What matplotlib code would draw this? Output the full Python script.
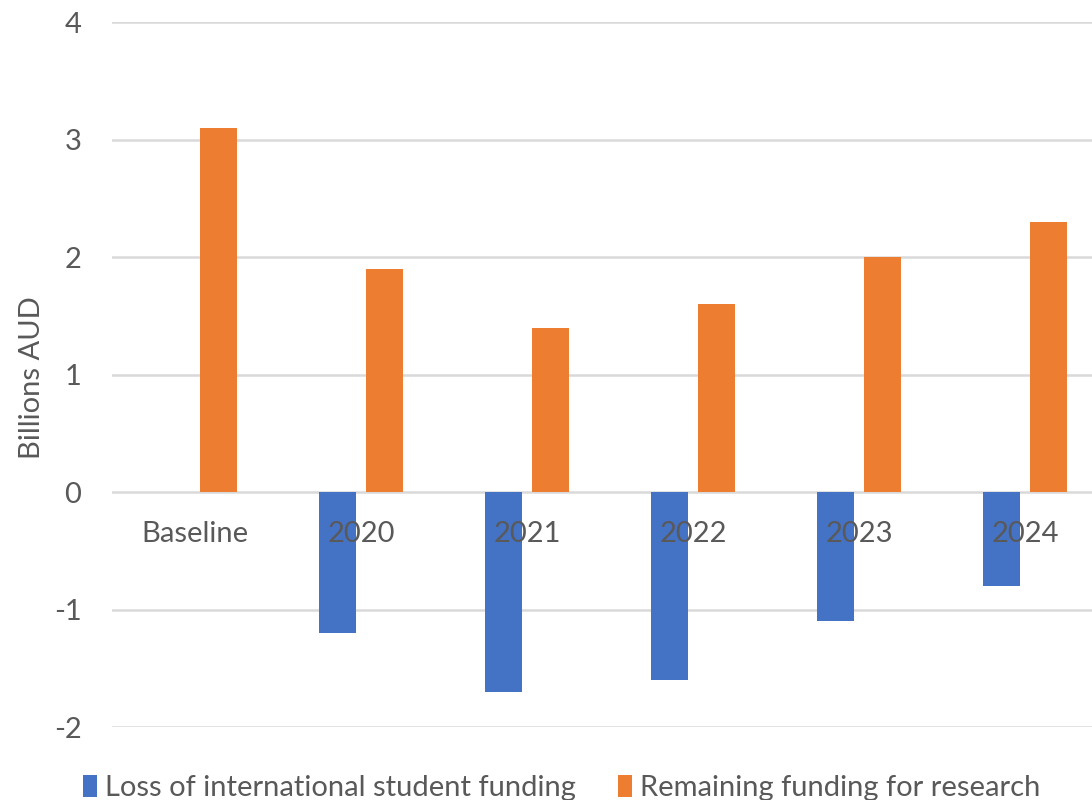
import numpy as np
import matplotlib.pyplot as plt
from matplotlib.patches import Patch

# datos del gráfico (miles de millones AUD)
categorias = ["Baseline", "2020", "2021", "2022", "2023", "2024"]
perdida_internacional = [0, -1.2, -1.7, -1.6, -1.1, -0.8]
fondos_investigacion = [3.1, 1.9, 1.4, 1.6, 2.0, 2.3]
yticks = [-2, -1, 0, 1, 2, 3, 4]

azul = "#4472C4"
naranja = "#ED7D31"
gris_texto = "#595959"
gris_rejilla = "#D9D9D9"

plt.rcParams['font.family'] = ['Lato', 'DejaVu Sans']

fig = plt.figure(figsize=(10.92, 8), dpi=100)
ax = fig.add_axes([112 / 1092, 73 / 800, 996 / 1092, 705 / 800])

x = np.arange(len(categorias))
ancho = 0.223
desplaz = 0.1416
ax.bar(x - desplaz, perdida_internacional, ancho, color=azul, zorder=2)
ax.bar(x + desplaz, fondos_investigacion, ancho, color=naranja, zorder=2)

# rejilla horizontal
for t in yticks:
    ax.axhline(t, color=gris_rejilla, linewidth=1.8, zorder=1)

ax.set_xlim(-0.5, len(categorias) - 0.5)
ax.set_ylim(-2, 4)
ax.set_yticks(yticks)
ax.set_yticklabels([str(t) for t in yticks])
ax.tick_params(axis='y', length=0, pad=22, labelsize=21, labelcolor=gris_texto)
ax.set_xticks([])
for s in ax.spines.values():
    s.set_visible(False)

# etiquetas de categorías justo debajo del cero, encima de las barras
for xi, c in zip(x, categorias):
    ax.annotate(c, (xi, 0), xytext=(0, -30), textcoords='offset points',
                ha='center', va='center', fontsize=21, color=gris_texto, zorder=3)

ax.set_ylabel("Billions AUD", fontsize=21, color=gris_texto)
ax.yaxis.label.set_va('center')
ax.yaxis.set_label_coords(-0.08, 0.495)

manejadores = [Patch(facecolor=azul, label="Loss of international student funding"),
               Patch(facecolor=naranja, label="Remaining funding for research")]
fig.legend(handles=manejadores, loc='center', bbox_to_anchor=(0.514, 0.015), ncol=2,
           frameon=False, fontsize=21, labelcolor=gris_texto, handlelength=0.48,
           handleheight=0.75, handletextpad=0.27, columnspacing=1.45)

plt.savefig("out.png", dpi=100)
